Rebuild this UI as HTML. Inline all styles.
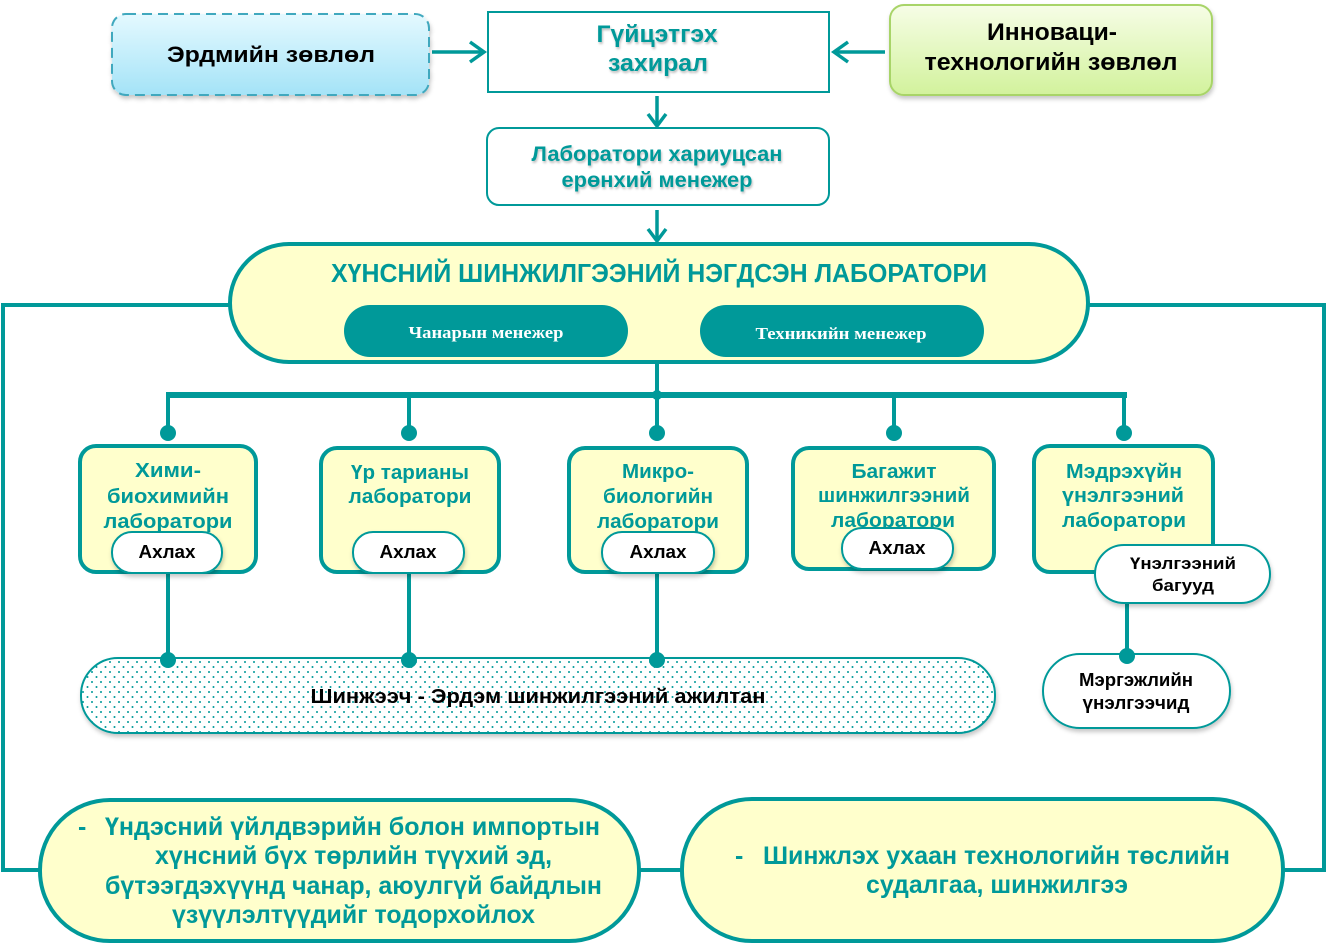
<!DOCTYPE html>
<html><head><meta charset="utf-8">
<style>html,body{margin:0;padding:0;background:#fff}svg{display:block}
.c{font-family:"Liberation Sans Narrow","Liberation Sans",sans-serif;font-weight:bold}
.a{font-family:"Liberation Sans",sans-serif;font-weight:bold}
.s{font-family:"Liberation Serif",serif;font-weight:bold}
</style></head>
<body>
<svg width="1327" height="946" viewBox="0 0 1327 946" xmlns="http://www.w3.org/2000/svg">
<defs>
<linearGradient id="gBlue" x1="0" y1="0" x2="0" y2="1"><stop offset="0" stop-color="#e4f9ff"/><stop offset="1" stop-color="#a4e3f7"/></linearGradient>
<linearGradient id="gGreen" x1="0" y1="0" x2="0" y2="1"><stop offset="0" stop-color="#f6fde6"/><stop offset="1" stop-color="#d2f29c"/></linearGradient>
<pattern id="dots" width="9" height="10" patternUnits="userSpaceOnUse"><rect width="9" height="10" fill="#fff"/><circle cx="2" cy="2" r="1" fill="#009999"/><circle cx="6.5" cy="7" r="1" fill="#009999"/></pattern>
<filter id="sh" x="-10%" y="-10%" width="130%" height="150%"><feDropShadow dx="1" dy="3" stdDeviation="2" flood-color="#000" flood-opacity="0.22"/></filter>
<filter id="ts" x="-5%" y="-20%" width="110%" height="150%"><feDropShadow dx="1" dy="2" stdDeviation="1" flood-color="#000" flood-opacity="0.25"/></filter>
</defs>

<!-- connectors -->
<g fill="none" stroke="#009999" stroke-width="4">
<path d="M230,305 H3 V870 H40"/>
<path d="M1088,305 H1324 V870 H1284"/>
<path d="M639,870 H683"/>
<path d="M657,362 V395"/>
<path d="M166,395 H1127" stroke-width="6"/>
<path d="M168,395 V433 M409,395 V433 M657,395 V433 M894,395 V433 M1124,395 V433"/>
<path d="M168,572 V660 M409,572 V660 M657,572 V660"/>
<path d="M1127,603 V656"/>
</g>
<g fill="none" stroke="#009999" stroke-width="3.5">
<path d="M432,52 H483"/><path d="M470,42 L484,52 L470,62"/>
<path d="M885,52 H834"/><path d="M848,42 L834,52 L848,62"/>
<path d="M657,96 V125"/><path d="M648,114 L657,126 L666,114"/>
<path d="M657,210 V240"/><path d="M648,229 L657,241 L666,229"/>
</g>

<!-- top boxes -->
<rect x="112" y="14" width="317" height="81" rx="14" fill="url(#gBlue)" stroke="#3fa8be" stroke-width="2" stroke-dasharray="10,6" filter="url(#sh)"/>
<rect x="488" y="12" width="341" height="80" fill="#fff" stroke="#009999" stroke-width="2"/>
<rect x="890" y="5" width="322" height="90" rx="14" fill="url(#gGreen)" stroke="#a8d468" stroke-width="2" filter="url(#sh)"/>
<rect x="487" y="128" width="342" height="77" rx="12" fill="#fff" stroke="#009999" stroke-width="2"/>

<text class="a" x="271" y="62" font-size="22" text-anchor="middle" textLength="208" lengthAdjust="spacingAndGlyphs">Эрдмийн зөвлөл</text>
<g filter="url(#ts)" fill="#009999">
<text class="c" x="657" y="42" font-size="24" text-anchor="middle" textLength="121" lengthAdjust="spacingAndGlyphs">Гүйцэтгэх</text>
<text class="c" x="658" y="71" font-size="24" text-anchor="middle" textLength="100" lengthAdjust="spacingAndGlyphs">захирал</text>
<text class="c" x="657" y="161" font-size="21" text-anchor="middle" textLength="251" lengthAdjust="spacingAndGlyphs">Лаборатори хариуцсан</text>
<text class="c" x="657" y="187" font-size="21" text-anchor="middle" textLength="191" lengthAdjust="spacingAndGlyphs">ерөнхий менежер</text>
</g>
<text class="c" x="1052" y="40" font-size="24" text-anchor="middle" textLength="130" lengthAdjust="spacingAndGlyphs">Инноваци-</text>
<text class="c" x="1051" y="70" font-size="24" text-anchor="middle" textLength="253" lengthAdjust="spacingAndGlyphs">технологийн зөвлөл</text>

<!-- big lab -->
<rect x="230" y="244" width="858" height="118" rx="59" fill="#ffffcc" stroke="#009999" stroke-width="4"/>
<text class="c" x="659" y="282" font-size="26" fill="#009999" text-anchor="middle" textLength="656" lengthAdjust="spacingAndGlyphs">ХҮНСНИЙ ШИНЖИЛГЭЭНИЙ НЭГДСЭН ЛАБОРАТОРИ</text>
<rect x="344" y="305" width="284" height="52" rx="26" fill="#009999"/>
<rect x="700" y="305" width="284" height="52" rx="26" fill="#009999"/>
<text class="s" x="486" y="338" font-size="17" fill="#fff" text-anchor="middle" textLength="155" lengthAdjust="spacingAndGlyphs">Чанарын менежер</text>
<text class="s" x="841" y="339" font-size="17" fill="#fff" text-anchor="middle" textLength="171" lengthAdjust="spacingAndGlyphs">Техникийн менежер</text>

<!-- lab boxes -->
<g fill="#ffffcc" stroke="#009999" stroke-width="4">
<rect x="80" y="446" width="176" height="126" rx="16"/>
<rect x="321" y="448" width="178" height="124" rx="16"/>
<rect x="569" y="448" width="178" height="124" rx="16"/>
<rect x="793" y="448" width="201" height="121" rx="16"/>
<rect x="1034" y="446" width="179" height="126" rx="16"/>
</g>
<g class="a" font-size="20" fill="#009999" text-anchor="middle">
<text class="a" x="168" y="477" textLength="66" lengthAdjust="spacingAndGlyphs">Хими-</text>
<text class="a" x="168" y="503" textLength="122" lengthAdjust="spacingAndGlyphs">биохимийн</text>
<text class="a" x="168" y="528" textLength="129" lengthAdjust="spacingAndGlyphs">лаборатори</text>
<text class="a" x="410" y="479" textLength="118" lengthAdjust="spacingAndGlyphs">Үр тарианы</text>
<text class="a" x="410" y="503" textLength="123" lengthAdjust="spacingAndGlyphs">лаборатори</text>
<text class="a" x="658" y="478" textLength="72" lengthAdjust="spacingAndGlyphs">Микро-</text>
<text class="a" x="658" y="503" textLength="110" lengthAdjust="spacingAndGlyphs">биологийн</text>
<text class="a" x="658" y="528" textLength="122" lengthAdjust="spacingAndGlyphs">лаборатори</text>
<text class="a" x="894" y="478" textLength="85" lengthAdjust="spacingAndGlyphs">Багажит</text>
<text class="a" x="894" y="502" textLength="152" lengthAdjust="spacingAndGlyphs">шинжилгээний</text>
<text class="a" x="893" y="527" textLength="124" lengthAdjust="spacingAndGlyphs">лаборатори</text>
<text class="a" x="1124" y="478" textLength="116" lengthAdjust="spacingAndGlyphs">Мэдрэхүйн</text>
<text class="a" x="1123" y="502" textLength="122" lengthAdjust="spacingAndGlyphs">үнэлгээний</text>
<text class="a" x="1124" y="527" textLength="124" lengthAdjust="spacingAndGlyphs">лаборатори</text>
</g>

<!-- Ахлах pills -->
<g fill="#fff" stroke="#009999" stroke-width="2" filter="url(#sh)">
<rect x="112" y="532" width="110" height="41" rx="20"/>
<rect x="353" y="532" width="111" height="41" rx="20"/>
<rect x="602" y="532" width="112" height="41" rx="20"/>
<rect x="842" y="528" width="111" height="41" rx="20"/>
<rect x="1095" y="545" width="175" height="58" rx="29"/>
<rect x="1043" y="654" width="187" height="74" rx="37"/>
</g>
<g font-size="18" fill="#000" text-anchor="middle">
<text class="a" x="167" y="558" textLength="57" lengthAdjust="spacingAndGlyphs">Ахлах</text>
<text class="a" x="408" y="558" textLength="57" lengthAdjust="spacingAndGlyphs">Ахлах</text>
<text class="a" x="658" y="558" textLength="57" lengthAdjust="spacingAndGlyphs">Ахлах</text>
<text class="a" x="897" y="554" textLength="57" lengthAdjust="spacingAndGlyphs">Ахлах</text>
<text class="a" x="1183" y="569" font-size="17" textLength="106" lengthAdjust="spacingAndGlyphs">Үнэлгээний</text>
<text class="a" x="1183" y="591" font-size="17" textLength="62" lengthAdjust="spacingAndGlyphs">багууд</text>
<text class="a" x="1136" y="686" textLength="114" lengthAdjust="spacingAndGlyphs">Мэргэжлийн</text>
<text class="a" x="1136" y="709" textLength="107" lengthAdjust="spacingAndGlyphs">үнэлгээчид</text>
</g>

<!-- Shinjeech -->
<rect x="81" y="658" width="914" height="75" rx="37" fill="url(#dots)" stroke="#009999" stroke-width="2" filter="url(#sh)"/>
<text class="a" x="538" y="703" font-size="20" fill="#000" text-anchor="middle" textLength="455" lengthAdjust="spacingAndGlyphs">Шинжээч - Эрдэм шинжилгээний ажилтан</text>

<!-- dots -->
<g fill="#009999">
<circle cx="168" cy="433" r="8"/><circle cx="409" cy="433" r="8"/><circle cx="657" cy="433" r="8"/><circle cx="894" cy="433" r="8"/><circle cx="1124" cy="433" r="8"/>
<circle cx="657" cy="395" r="5"/>
<circle cx="168" cy="660" r="8"/><circle cx="409" cy="660" r="8"/><circle cx="657" cy="660" r="8"/>
<circle cx="1127" cy="656" r="8"/>
</g>

<!-- bottom ovals -->
<rect x="40" y="800" width="599" height="141" rx="70" fill="#ffffcc" stroke="#009999" stroke-width="4"/>
<rect x="682" y="799" width="601" height="142" rx="70" fill="#ffffcc" stroke="#009999" stroke-width="4"/>
<g font-size="25" fill="#009999">
<text class="c" x="78" y="835">-</text>
<text class="c" x="105" y="835" textLength="495" lengthAdjust="spacingAndGlyphs">Үндэсний үйлдвэрийн болон импортын</text>
<text class="c" x="155" y="864" textLength="397" lengthAdjust="spacingAndGlyphs">хүнсний бүх төрлийн түүхий эд,</text>
<text class="c" x="105" y="894" textLength="497" lengthAdjust="spacingAndGlyphs">бүтээгдэхүүнд чанар, аюулгүй байдлын</text>
<text class="c" x="172" y="923" textLength="363" lengthAdjust="spacingAndGlyphs">үзүүлэлтүүдийг тодорхойлох</text>
<text class="c" x="735" y="864">-</text>
<text class="c" x="763" y="864" textLength="467" lengthAdjust="spacingAndGlyphs">Шинжлэх ухаан технологийн төслийн</text>
<text class="c" x="866" y="893" textLength="262" lengthAdjust="spacingAndGlyphs">судалгаа, шинжилгээ</text>
</g>
</svg>
</body></html>
